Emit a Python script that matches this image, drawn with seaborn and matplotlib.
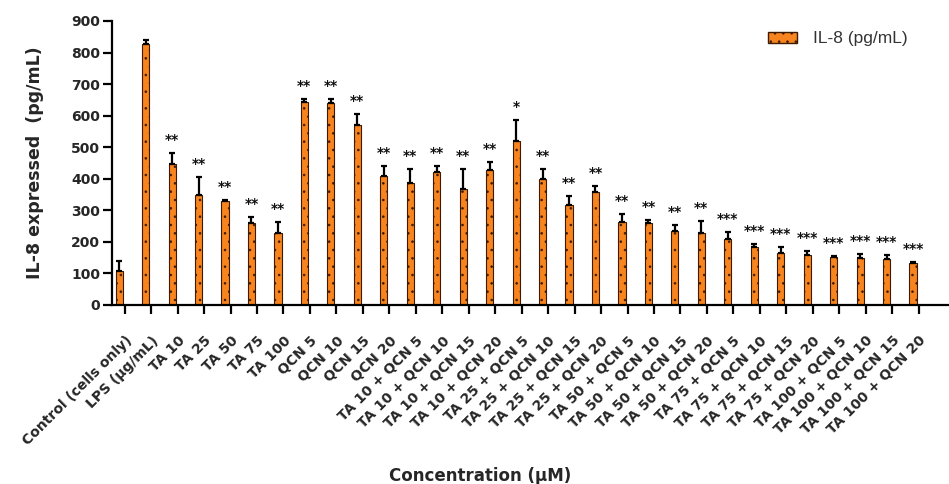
import matplotlib
matplotlib.use("Agg")
import matplotlib.pyplot as plt
import seaborn as sns
import pandas as pd
import numpy as np
from matplotlib.patches import Patch

# ---------------- data ----------------
categories = [
    "Control (cells only)", "LPS (µg/mL)",
    "TA 10", "TA 25", "TA 50", "TA 75", "TA 100",
    "QCN 5", "QCN 10", "QCN 15", "QCN 20",
    "TA 10 + QCN 5", "TA 10 + QCN 10", "TA 10 + QCN 15", "TA 10 + QCN 20",
    "TA 25 + QCN 5", "TA 25 + QCN 10", "TA 25 + QCN 15", "TA 25 + QCN 20",
    "TA 50 + QCN 5", "TA 50 + QCN 10", "TA 50 + QCN 15", "TA 50 + QCN 20",
    "TA 75 + QCN 5", "TA 75 + QCN 10", "TA 75 + QCN 15", "TA 75 + QCN 20",
    "TA 100 + QCN 5", "TA 100 + QCN 10", "TA 100 + QCN 15", "TA 100 + QCN 20",
]
il8_mean = [
    108, 826,
    446, 349, 328, 259, 227,
    642, 640, 571, 409,
    388, 423, 367, 428,
    520, 398, 318, 358,
    262, 259, 233, 227,
    210, 184, 166, 159,
    151, 148, 146, 134,
]
il8_err = [
    30, 14,
    37, 56, 5, 19, 37,
    12, 12, 34, 32,
    43, 16, 63, 26,
    65, 32, 26, 19,
    25, 11, 20, 40,
    20, 8, 17, 13,
    5, 14, 13, 2,
]
significance = [
    "", "",
    "**", "**", "**", "**", "**",
    "**", "**", "**", "**",
    "**", "**", "**", "**",
    "*", "**", "**", "**",
    "**", "**", "**", "**",
    "***", "***", "***", "***",
    "***", "***", "***", "***",
]
legend_label = "IL-8 (pg/mL)"
y_ticks = [0, 100, 200, 300, 400, 500, 600, 700, 800, 900]

# ---------------- style ----------------
sns.set_style("ticks")
plt.rcParams["font.family"] = ["DejaVu Sans"]
plt.rcParams["hatch.linewidth"] = 0.6

BAR_COLOR = "#F7841E"
EDGE_COLOR = "#3d1a00"

W, H = 949, 484
fig = plt.figure(figsize=(W / 100, H / 100), dpi=100)
ax = fig.add_axes([112 / W, 1 - 305 / H, (948 - 112) / W, (305 - 21) / H])

df = pd.DataFrame({"Concentration": categories, "IL8": il8_mean})
sns.barplot(
    data=df, x="Concentration", y="IL8", ax=ax,
    color=BAR_COLOR, saturation=1, width=0.27,
    edgecolor=EDGE_COLOR, linewidth=0.8, hatch="..",
    errorbar=None,
)

n = len(categories)
xpos = np.arange(n)
ax.errorbar(
    xpos, il8_mean, yerr=[np.zeros(n), il8_err], fmt="none",
    ecolor="black", elinewidth=1.6, capsize=2.5, capthick=1.6, zorder=5,
)

tops = np.array(il8_mean) + np.array(il8_err)
for i, s in enumerate(significance):
    if s:
        ax.annotate(
            s, xy=(i, tops[i] + 52), xytext=(0, -5.3), textcoords="offset points",
            ha="center", va="baseline", fontsize=10, fontweight="bold",
            color="#111111",
        )

# axes
ax.set_ylim(0, 900)
ax.set_yticks(y_ticks)
ax.set_xlim(-0.27, 31.32)
ax.set_xticks(xpos + 0.21)
ax.set_xticklabels(categories, rotation=45, ha="right", va="top",
                   rotation_mode="anchor", fontsize=10, fontweight="bold")
for lab in ax.get_yticklabels():
    lab.set_fontweight("bold")
    lab.set_fontsize(10)
ax.tick_params(axis="both", length=6.5, width=1.6, color="black")
ax.tick_params(axis="y", pad=2)
ax.tick_params(axis="x", pad=14)
sns.despine(ax=ax)
for sp in ["left", "bottom"]:
    ax.spines[sp].set_linewidth(1.6)
    ax.spines[sp].set_color("black")

ax.set_xlabel("Concentration (µM)", fontsize=12, fontweight="bold")
ax.xaxis.set_label_coords(0.44, -0.57)
ax.set_ylabel("IL-8 expressed  (pg/mL)", fontsize=12.5, fontweight="bold")
ax.yaxis.set_label_coords(-0.081, 0.5)

handle = Patch(facecolor=BAR_COLOR, edgecolor=EDGE_COLOR, hatch="..",
               linewidth=1.0, label=legend_label)
leg = ax.legend(
    handles=[handle], loc="center left",
    bbox_to_anchor=(768 / W, 1 - 39 / H), bbox_transform=fig.transFigure,
    frameon=False, borderpad=0, borderaxespad=0,
    handlelength=1.67, handleheight=0.58, handletextpad=0.92,
    prop={"family": "Liberation Sans", "size": 12.5},
)
for t in leg.get_texts():
    t.set_color("#333333")

fig.savefig("out.png", dpi=100)
